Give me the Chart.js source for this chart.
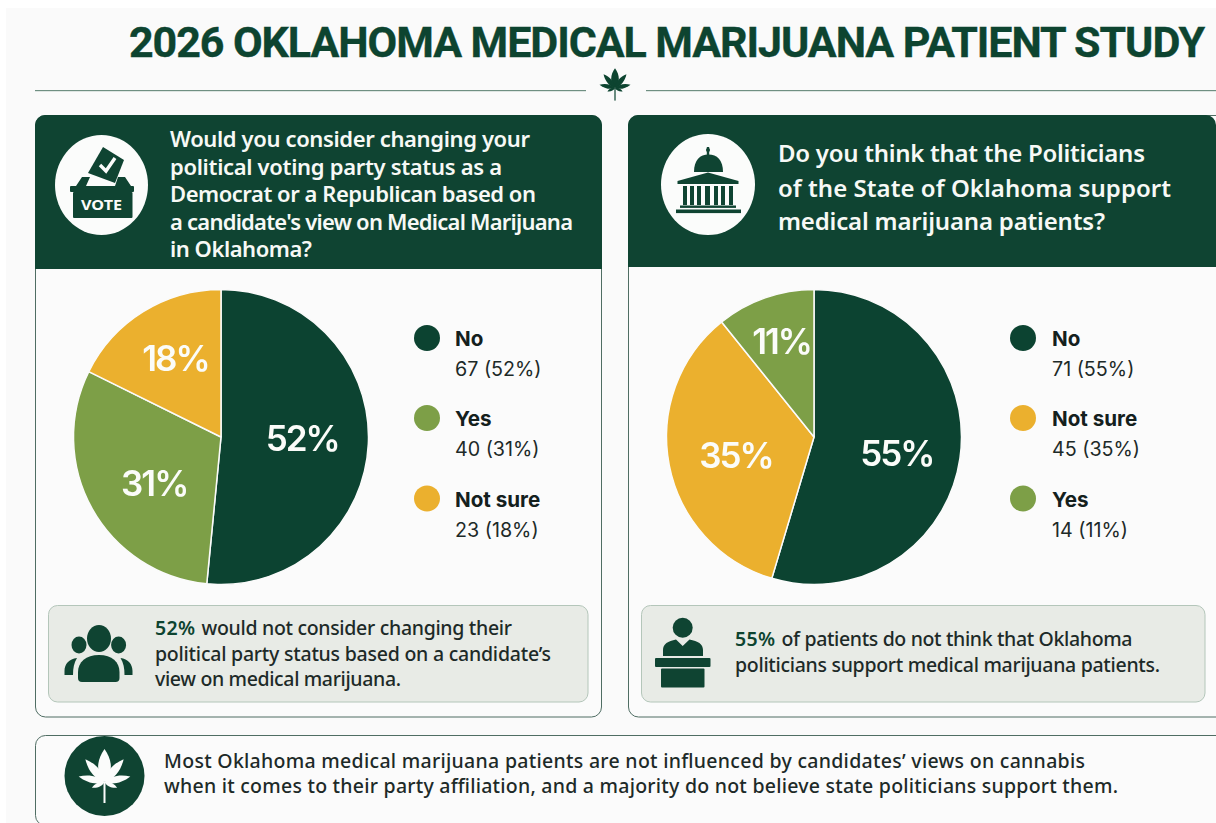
<!DOCTYPE html>
<html>
<head>
<meta charset="utf-8">
<title>2026 Oklahoma Medical Marijuana Patient Study</title>
<script src="https://cdn.jsdelivr.net/npm/chart.js@4"></script>
<style>
  html, body { margin: 0; padding: 0; background: #fff; overflow: hidden; }
  #page { position: relative; width: 1216px; height: 823px; overflow: hidden; }
  #art { position: absolute; left: 0; top: 0; }
  canvas { position: absolute; }
  text { font-family: "Noto Sans", sans-serif; }
  .title { font-family: Roboto, sans-serif; font-weight: 700; font-size: 43px; fill: #0d4430; stroke: #0d4430; stroke-width: .35px; }
  .head { font-weight: 600; font-size: 22px; fill: #f7f9f6; }
  .head2 { font-weight: 600; font-size: 24px; fill: #f7f9f6; }
  .note { font-weight: 500; font-size: 19.5px; fill: #1d2a28; }
  .strong { font-weight: 600; font-size: 19.5px; fill: #0d4430; }
  .foot { font-weight: 500; font-size: 19.5px; fill: #1d2a28; }
  .lg-name { font-family: Inter, sans-serif; font-weight: 700; font-size: 20.6px; fill: #14201d; }
  .lg-val { font-family: Inter, sans-serif; font-weight: 400; font-size: 19.7px; fill: #1d2a28; }
</style>
</head>
<body>
<div id="page">
<svg id="art" width="1216" height="823" viewBox="0 0 1216 823" xmlns="http://www.w3.org/2000/svg">
  <defs>
    <path id="blade" d="M0 0C9 -9 8 -22 0 -33C-8 -22 -9 -9 0 0Z"/>
    <g id="leaf">
      <use href="#blade"/>
      <use href="#blade" transform="rotate(40) scale(.65 .9)"/>
      <use href="#blade" transform="rotate(-40) scale(.65 .9)"/>
      <use href="#blade" transform="rotate(78) scale(.55 .8)"/>
      <use href="#blade" transform="rotate(-78) scale(.55 .8)"/>
      <use href="#blade" transform="rotate(114) scale(.35 .42)"/>
      <use href="#blade" transform="rotate(-114) scale(.35 .42)"/>
      <rect x="-1" y="0" width="2" height="21"/>
    </g>
  </defs>

  <!-- sheet -->
  <rect x="6" y="8" width="1210" height="815" fill="#fafafa"/>

  <!-- title and divider -->
  <text class="title" x="129" y="57" textLength="1076" lengthAdjust="spacing">2026 OKLAHOMA MEDICAL MARIJUANA PATIENT STUDY</text>
  <rect x="35" y="90" width="551" height="1.2" fill="#6f8f82"/>
  <rect x="646" y="90" width="570" height="1.2" fill="#6f8f82"/>
  <use href="#leaf" transform="translate(615 88) scale(.6)" fill="#0d4430"/>

  <!-- question panels -->
  <rect x="35.5" y="115.5" width="566" height="601.5" rx="10" fill="#fbfbfb" stroke="#4f6d63"/>
  <path d="M35 269V125a10 10 0 0 1 10 -10H592a10 10 0 0 1 10 10V269Z" fill="#0f4432"/>
  <rect x="628.5" y="115.5" width="600" height="601.5" rx="10" fill="#fbfbfb" stroke="#4f6d63"/>
  <path d="M628 267V125a10 10 0 0 1 10 -10H1206a10 10 0 0 1 10 10V267Z" fill="#0f4432"/>

  <!-- header badge: ballot box -->
  <ellipse cx="101.5" cy="185" rx="46.5" ry="50" fill="#fbfcfb"/>
  <g fill="#0f4432">
    <path d="M103 147L124 160L115 183L88 173Z"/>
    <path d="M76 186L82 177H90L86 186ZM118 177H125L131 186H115Z"/>
    <rect x="70" y="186" width="64" height="6" rx="1"/>
    <rect x="73" y="192" width="59.5" height="26" rx="1"/>
  </g>
  <path d="M100 165L106 171L115 158" fill="none" stroke="#fbfcfb" stroke-width="3.4"/>
  <text x="81" y="210" font-weight="700" font-size="15" fill="#fbfcfb" textLength="41" lengthAdjust="spacingAndGlyphs">VOTE</text>

  <!-- header badge: capitol -->
  <ellipse cx="708" cy="184.5" rx="47" ry="50.5" fill="#fbfcfb"/>
  <g fill="#0f4432">
    <rect x="706.8" y="147" width="2.4" height="9"/>
    <circle cx="708" cy="150" r="2"/>
    <path d="M694 172C694 160 700 154.5 708.5 154.5C717 154.5 723 160 723 172Z"/>
    <path d="M677.5 181L708 172.5L738.5 181V184H677.5Z"/>
    <rect x="683" y="186" width="4" height="19"/>
    <rect x="690" y="186" width="4" height="19"/>
    <rect x="697" y="186" width="4" height="19"/>
    <rect x="705" y="186" width="5" height="19"/>
    <rect x="714" y="186" width="4" height="19"/>
    <rect x="721" y="186" width="4" height="19"/>
    <rect x="729" y="186" width="4" height="19"/>
    <rect x="680" y="205.5" width="56" height="2.4"/>
    <rect x="676" y="209.5" width="65" height="3.6"/>
  </g>

  <!-- question wording -->
  <text class="head" x="170" y="147" textLength="360" lengthAdjust="spacing">Would you consider changing your</text>
  <text class="head" x="170" y="174.5" textLength="332" lengthAdjust="spacing">political voting party status as a</text>
  <text class="head" x="170" y="202" textLength="366" lengthAdjust="spacing">Democrat or a Republican based on</text>
  <text class="head" x="170" y="229.5" textLength="403" lengthAdjust="spacing">a candidate's view on Medical Marijuana</text>
  <text class="head" x="170" y="257" textLength="142" lengthAdjust="spacing">in Oklahoma?</text>
  <text class="head2" x="778" y="162" textLength="367" lengthAdjust="spacing">Do you think that the Politicians</text>
  <text class="head2" x="778" y="197" textLength="393" lengthAdjust="spacing">of the State of Oklahoma support</text>
  <text class="head2" x="778" y="230" textLength="327" lengthAdjust="spacing">medical marijuana patients?</text>

  <!-- legends are appended here -->
  <g id="legends"></g>

  <!-- callouts -->
  <rect x="48.5" y="605.5" width="539.5" height="96.5" rx="9" fill="#e8ebe6" stroke="#b4c6ba"/>
  <rect x="641.5" y="605.5" width="563.5" height="96.5" rx="9" fill="#e8ebe6" stroke="#b4c6ba"/>

  <g fill="#0f4432">
    <ellipse cx="99" cy="638.5" rx="12" ry="13.5"/>
    <ellipse cx="79" cy="645" rx="7.5" ry="8.5"/>
    <ellipse cx="118.6" cy="645" rx="7.5" ry="8.5"/>
    <path d="M78 678V672C78 662 86 655 99 655C112 655 119.5 662 119.5 672V678Q119.5 682 115.5 682H82Q78 682 78 678Z"/>
    <path d="M64.5 675V671C64.5 664 69 659 77 658C74 663 73 668 73 675Z"/>
    <path d="M132.5 675V671C132.5 664 128 659 120.5 658C123.5 663 124.5 668 124.5 675Z"/>
  </g>
  <g fill="#0f4432">
    <ellipse cx="682.7" cy="627.7" rx="10" ry="10"/>
    <path d="M663 656V650C663 644 668 641 676 639.5L682.7 646L689.5 639.5C698 641 703 644 703 650V656Z"/>
    <rect x="655" y="658" width="55.5" height="9" rx="1"/>
    <rect x="661" y="668.5" width="43.5" height="19" rx="1"/>
  </g>

  <text class="strong" x="155" y="635" textLength="40" lengthAdjust="spacing">52%</text>
  <text class="note" x="201.5" y="635" textLength="310.5" lengthAdjust="spacing">would not consider changing their</text>
  <text class="note" x="155" y="660.5" textLength="396" lengthAdjust="spacing">political party status based on a candidate’s</text>
  <text class="note" x="155" y="686" textLength="246" lengthAdjust="spacing">view on medical marijuana.</text>
  <text class="strong" x="735" y="646" textLength="40" lengthAdjust="spacing">55%</text>
  <text class="note" x="781.5" y="646" textLength="351" lengthAdjust="spacing">of patients do not think that Oklahoma</text>
  <text class="note" x="735" y="672" textLength="425" lengthAdjust="spacing">politicians support medical marijuana patients.</text>

  <!-- closing takeaway -->
  <rect x="35.5" y="735.5" width="1195" height="90" rx="10" fill="#fbfbfb" stroke="#4f6d63"/>
  <circle cx="104.5" cy="776" r="40" fill="#0f4432"/>
  <use href="#leaf" transform="translate(104.5 782)" fill="#fbfcfb"/>
  <text class="foot" x="164" y="768" textLength="921" lengthAdjust="spacing">Most Oklahoma medical marijuana patients are not influenced by candidates’ views on cannabis</text>
  <text class="foot" x="164" y="793" textLength="954" lengthAdjust="spacing">when it comes to their party affiliation, and a majority do not believe state politicians support them.</text>
</svg>
<canvas id="pieVote" width="310" height="310" style="left:66px;top:282px"></canvas>
<canvas id="piePoliticians" width="310" height="310" style="left:659px;top:282px"></canvas>
</div>

<script>
// Survey answers, in the order each question lists them.
const voteAnswers = ['No', 'Yes', 'Not sure'];
const voteCounts = [67, 40, 23];
const votePercents = [52, 31, 18];
const politicianAnswers = ['No', 'Not sure', 'Yes'];
const politicianCounts = [71, 45, 14];
const politicianPercents = [55, 35, 11];

const answerColors = { 'No': '#0c4331', 'Yes': '#7d9f47', 'Not sure': '#ebb02e' };

// Writes the rounded share inside each slice: pushed out along the slice's
// middle angle by a fraction of the radius, then nudged by a small offset.
const sliceLabels = {
  id: 'sliceLabels',
  afterDatasetsDraw(chart, args, opts) {
    const { ctx } = chart;
    const arcs = chart.getDatasetMeta(0).data;
    ctx.save();
    ctx.font = '600 35px Inter, sans-serif';
    ctx.letterSpacing = '-2px';
    ctx.fillStyle = '#fbfcf9';
    ctx.textAlign = 'center';
    ctx.textBaseline = 'middle';
    arcs.forEach((arc, i) => {
      const p = arc.getProps(['x', 'y', 'startAngle', 'endAngle', 'outerRadius'], true);
      const mid = (p.startAngle + p.endAngle) / 2;
      const r = p.outerRadius * opts.reach[i];
      const [dx, dy] = opts.nudge[i];
      ctx.fillText(opts.percents[i] + '%', p.x + Math.cos(mid) * r + dx, p.y + Math.sin(mid) * r + dy);
    });
    ctx.restore();
  }
};

function drawPie(id, answers, counts, percents, reach, nudge) {
  new Chart(document.getElementById(id), {
    type: 'pie',
    data: {
      labels: answers,
      datasets: [{
        data: counts,
        backgroundColor: answers.map(a => answerColors[a]),
        borderColor: '#fbfbfb',
        borderWidth: 1.5
      }]
    },
    options: {
      responsive: false,
      animation: false,
      radius: 147.5,
      events: [],
      layout: { padding: 0 },
      plugins: {
        legend: { display: false },
        tooltip: { enabled: false },
        sliceLabels: { percents, reach, nudge }
      }
    },
    plugins: [sliceLabels]
  });
}

drawPie('pieVote', voteAnswers, voteCounts, votePercents,
  [0.544, 0.557, 0.624], [[1, 0], [5, 9], [3, 2]]);
drawPie('piePoliticians', politicianAnswers, politicianCounts, politicianPercents,
  [0.561, 0.553, 0.683], [[1, 7], [2, 5], [1, 2]]);

// Legend rows beside each pie: colour dot, answer, then count and share.
const SVG_NS = 'http://www.w3.org/2000/svg';
function legendRows(dotX, textX, answers, counts, percents) {
  const group = document.getElementById('legends');
  const rowY = [338, 418, 498.5];
  const add = (tag, attrs, str) => {
    const el = document.createElementNS(SVG_NS, tag);
    for (const k in attrs) el.setAttribute(k, attrs[k]);
    if (str) el.textContent = str;
    group.appendChild(el);
  };
  answers.forEach((a, i) => {
    const y = rowY[i];
    add('circle', { cx: dotX, cy: y, r: 13, fill: answerColors[a] });
    add('text', { class: 'lg-name', x: textX, y: y + 8 }, a);
    add('text', { class: 'lg-val', x: textX, y: y + 38 }, counts[i] + ' (' + percents[i] + '%)');
  });
}
legendRows(427, 455, voteAnswers, voteCounts, votePercents);
legendRows(1023, 1052, politicianAnswers, politicianCounts, politicianPercents);
</script>
</body>
</html>
